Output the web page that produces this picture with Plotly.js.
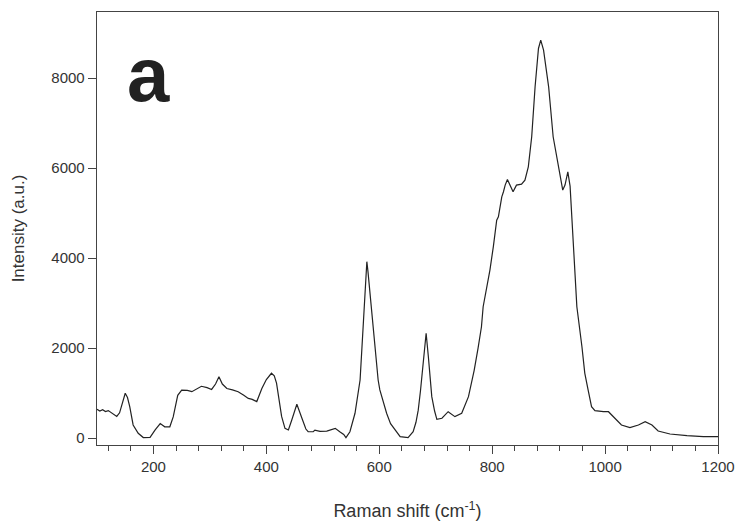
<!DOCTYPE html>
<html>
<head>
<meta charset="utf-8">
<script src="https://cdn.plot.ly/plotly-3.0.1.min.js"></script>
<style>html,body{margin:0;padding:0;background:#fff;}</style>
</head>
<body>
<div id="chart" style="width:742px;height:523px;"></div>
<script>
const ramanShift = [100,105,110,115,120,125,129,135,140,145,150,154,158,164,173,182,188,194,203,212,220,229,235,243,250,260,268,277,285,295,303,310,316,322,330,340,350,360,368,375,383,392,400,409,414,418,422,427,433,439,445,454,463,470,474,483,486,495,507,515,522,530,537,541,548,557,562,566,572,576,578,580,588,598,601,613,620,628,637,651,660,665,669,673,675,679,683,687,691,693,698,702,711,722,734,746,758,768,775,781,784,796,802,808,811,817,820,823,827,832,837,843,852,858,864,870,876,882,886,891,900,908,917,925,929,934,938,941,944,950,959,964,970,976,982,990,997,1006,1015,1029,1044,1059,1071,1083,1094,1115,1145,1174,1200];
const intensity = [640,600,630,590,610,570,520,480,560,800,995,900,700,290,105,10,20,15,180,320,250,250,470,950,1065,1060,1030,1100,1150,1120,1080,1200,1360,1200,1100,1070,1030,950,880,860,810,1100,1300,1440,1380,1220,900,480,215,180,400,750,440,200,140,140,175,150,155,180,215,140,80,10,140,550,1000,1290,2600,3500,3920,3700,2600,1290,1070,550,320,180,30,10,140,350,620,1050,1290,1900,2330,1800,1290,920,600,415,440,585,475,550,920,1500,2000,2474,2918,3733,4251,4844,4918,5362,5474,5622,5748,5600,5474,5622,5644,5733,6029,6696,7807,8659,8844,8622,7807,6696,6029,5511,5622,5918,5600,4918,4251,2918,2029,1444,1067,696,607,590,585,585,474,289,230,289,363,289,156,89,52,30,30];
const xTickVals = [200,400,600,800,1000,1200];
const yTickVals = [0,2000,4000,6000,8000];
const panelLabel = "a";

const trace = {
  x: ramanShift, y: intensity, type: 'scatter', mode: 'lines',
  line: {color: '#222', width: 1.2}, hoverinfo: 'skip'
};
const axisFont = {family: 'Liberation Sans, Arial, sans-serif', size: 15, color: '#333'};
const layout = {
  width: 742, height: 523,
  margin: {l: 97, r: 24, t: 12, b: 78},
  paper_bgcolor: '#fff', plot_bgcolor: '#fff',
  showlegend: false,
  font: {family: 'Liberation Sans, Arial, sans-serif', color: '#333'},
  xaxis: {
    range: [100, 1200], tickvals: xTickVals, ticktext: xTickVals.map(String),
    ticks: 'outside', ticklen: 8, tickwidth: 1, tickcolor: '#444',
    minor: {dtick: 40, tick0: 0, ticks: 'outside', ticklen: 5, tickwidth: 1, tickcolor: '#444', showgrid: false},
    showline: true, linecolor: '#444', linewidth: 1.3, mirror: true,
    showgrid: false, zeroline: false, tickfont: axisFont,
    title: {text: 'Raman shift (cm<sup>-1</sup>)', font: {family: 'Liberation Sans, Arial, sans-serif', size: 18, color: '#333'}, standoff: 30}
  },
  yaxis: {
    range: [-155, 9470], tickvals: yTickVals, ticktext: yTickVals.map(String),
    ticks: 'outside', ticklen: 8, tickwidth: 1, tickcolor: '#444',
    showline: true, linecolor: '#444', linewidth: 1.3, mirror: true,
    showgrid: false, zeroline: false, tickfont: axisFont,
    title: {text: 'Intensity (a.u.)', font: {family: 'Liberation Sans, Arial, sans-serif', size: 17, color: '#333'}, standoff: 22}
  },
  annotations: [{
    text: '<b>' + panelLabel + '</b>', xref: 'paper', yref: 'paper',
    x: 0.0837, y: 0.855, xanchor: 'center', yanchor: 'middle', showarrow: false,
    font: {family: 'Liberation Sans, Arial, sans-serif', size: 76, color: '#222'}
  }]
};
Plotly.newPlot('chart', [trace], layout, {displayModeBar: false, staticPlot: true});
</script>
</body>
</html>
